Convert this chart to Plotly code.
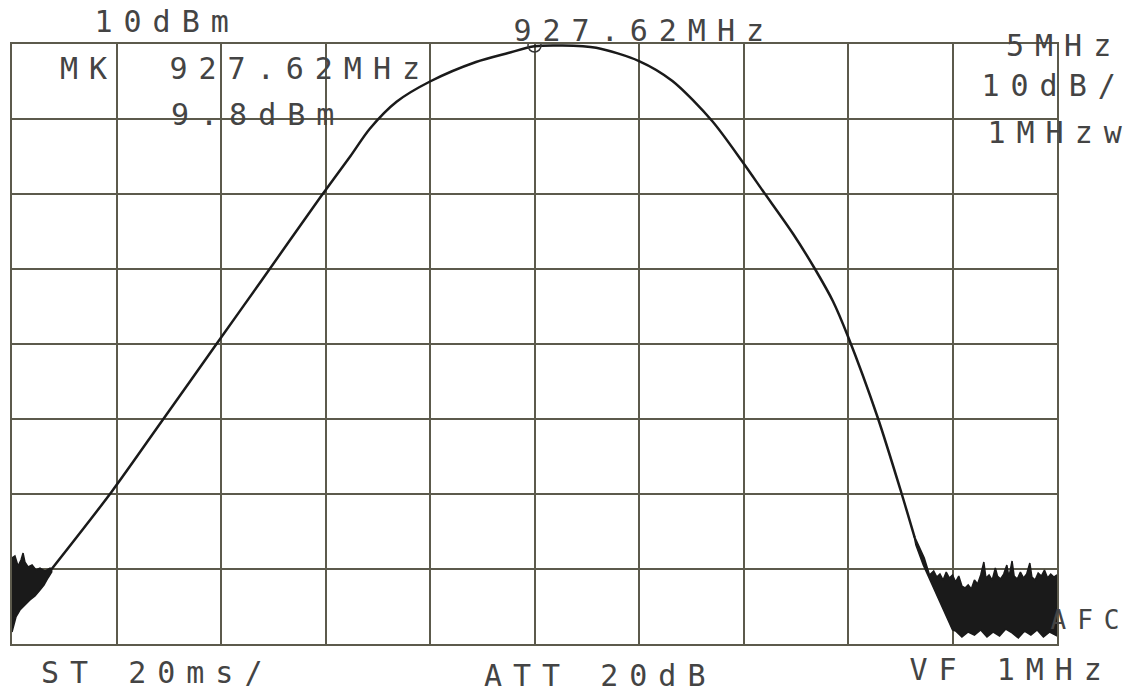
import plotly.graph_objects as go

# trace: frequency (MHz) and level (dBm)
freq_mhz = [904.52, 907.38, 909.76, 912.48, 914.57, 917.33, 918.80, 919.74, 921.02,
            922.62, 924.82, 926.36, 927.62, 928.95, 930.57, 932.62, 934.22, 936.12,
            937.62, 938.55, 939.99, 941.04, 941.90, 942.62, 944.04, 945.17, 945.81]
level_dbm = [-60.0, -49.73, -40.4, -29.7, -21.5, -10.6, -5.0, -1.3, 2.3,
             5.0, 7.6, 8.8, 9.7, 9.8, 9.5, 7.73, 5.07, -0.27,
             -5.9, -9.6, -15.3, -20.0, -24.3, -29.0, -39.8, -49.8, -55.8]

# noise floor at the left edge (outline of the black blob)
noise_left_freq = [902.62, 902.76, 902.91, 903.05, 903.15, 903.24, 903.39, 903.58, 903.77,
                   903.96, 904.20, 904.44, 904.52,
                   904.52, 904.34, 904.15, 903.96, 903.72, 903.48, 903.24, 903.00,
                   902.81, 902.72, 902.62]
noise_left_dbm = [-58.53, -58.27, -59.6, -58.8, -57.87, -59.07, -59.73, -59.47, -60.13,
                  -59.87, -60.27, -59.87, -60.0,
                  -60.4, -61.2, -62.13, -62.8, -63.6, -64.13, -64.8, -65.47,
                  -66.4, -67.47, -68.4]

# noise floor at the right edge (upper edge, then lower edge back)
noise_right_freq = [945.77, 946.27, 946.52, 946.72, 946.87, 947.02, 947.17, 947.32, 947.47,
                    947.62, 947.77, 947.92, 948.07, 948.22, 948.37, 948.52, 948.67, 948.82,
                    948.97, 949.12, 949.22, 949.37, 949.52, 949.67, 949.77, 949.92, 950.07,
                    950.22, 950.32, 950.47, 950.57, 950.72, 950.87, 951.02, 951.17, 951.32,
                    951.42, 951.57, 951.72, 951.87, 952.02, 952.17, 952.32, 952.47, 952.62,
                    952.62, 952.27, 951.97, 951.67, 951.37, 951.07, 950.77, 950.47, 950.17,
                    949.87, 949.57, 949.27, 948.97, 948.67, 948.37, 948.07, 947.77, 947.62,
                    947.27, 946.92, 946.57, 946.22, 945.87, 945.77]
noise_right_dbm = [-55.47, -58.53, -60.8, -60.27, -61.07, -60.67, -61.47, -60.4, -61.2,
                   -60.8, -61.73, -60.93, -62.27, -62.53, -62.13, -62.67, -61.47, -62.0,
                   -60.8, -59.07, -61.2, -60.8, -61.47, -59.87, -60.93, -61.33, -60.67,
                   -59.47, -61.07, -58.93, -60.93, -61.33, -60.4, -61.2, -60.67, -59.2,
                   -61.07, -61.47, -60.53, -60.93, -60.13, -61.2, -60.67, -61.07, -60.8,
                   -68.93, -68.4, -69.07, -68.13, -68.8, -68.27, -69.2, -68.53, -68.0,
                   -68.93, -68.4, -69.07, -68.13, -68.8, -68.4, -69.07, -68.27, -68.13,
                   -66.0, -63.87, -61.73, -59.47, -56.8, -55.47]

marker_freq = [927.62]
marker_dbm = [9.8]

center_mhz = 927.62
span_per_div = 5
ref_level = 10
db_per_div = 10

ink = '#1a1a1a'
grid_col = '#5c5a4c'
txt_col = '#444444'
font_name = 'DejaVu Sans Mono'

fig = go.Figure()
fig.add_trace(go.Scatter(x=noise_left_freq, y=noise_left_dbm, mode='lines', fill='toself',
                         fillcolor=ink, line=dict(color=ink, width=1.5), hoverinfo='skip'))
fig.add_trace(go.Scatter(x=noise_right_freq, y=noise_right_dbm, mode='lines', fill='toself',
                         fillcolor=ink, line=dict(color=ink, width=1.5), hoverinfo='skip'))
fig.add_trace(go.Scatter(x=freq_mhz, y=level_dbm, mode='lines',
                         line=dict(color=ink, width=2.5, shape='spline', smoothing=0.8)))
fig.add_trace(go.Scatter(x=marker_freq, y=marker_dbm, mode='markers',
                         marker=dict(symbol='circle-open', size=13, color='#333',
                                     line=dict(width=1.5))))

x0 = center_mhz - 5 * span_per_div
x1 = center_mhz + 5 * span_per_div
fig.update_xaxes(range=[x0, x1], tick0=x0, dtick=span_per_div, showgrid=True,
                 gridcolor=grid_col, gridwidth=1.5, showline=True, mirror=True,
                 linecolor=grid_col, linewidth=1.5, showticklabels=False, ticks='',
                 zeroline=False)
fig.update_yaxes(range=[ref_level - 8 * db_per_div, ref_level], dtick=db_per_div,
                 showgrid=True, gridcolor=grid_col, gridwidth=1.5, showline=True,
                 mirror=True, linecolor=grid_col, linewidth=1.5, showticklabels=False,
                 ticks='', zeroline=False)

labels = [
    ('10dBm', 0.1483, 1.0367, 30),
    ('MK', 0.0737, 0.96, 30),
    ('927.62MHz', 0.2756, 0.96, 30),
    ('9.8dBm', 0.2354, 0.8833, 30),
    ('927.62MHz', 0.6048, 1.0233, 30),
    ('5MHz', 1.0067, 0.9967, 30),
    ('10dB/', 0.9971, 0.93, 30),
    ('1MHzw', 1.0029, 0.8533, 30),
    ('AFC', 1.0325, 0.04, 26),
    ('ST 20ms/', 0.1397, -0.0467, 30),
    ('ATT 20dB', 0.5627, -0.0517, 30),
    ('VF 1MHz', 0.9560, -0.0433, 30),
]
for t, ax, ay, sz in labels:
    fig.add_annotation(text=t, x=ax, y=ay, xref='paper', yref='paper', showarrow=False,
                       xanchor='center', yanchor='middle',
                       font=dict(family=font_name, size=sz, color=txt_col))

fig.update_layout(width=1132, height=696, showlegend=False,
                  paper_bgcolor='white', plot_bgcolor='white',
                  margin=dict(l=12, r=75, t=44, b=52))

# drop the default page margin; plotter font is much wider than it is tall
page_js = ("document.body.style.margin='0';"
           "document.querySelectorAll('.annotation-text').forEach(function(t){"
           "t.style.letterSpacing='11px';});")
fig.write_html("out.html", post_script=page_js, config={'displayModeBar': False})
